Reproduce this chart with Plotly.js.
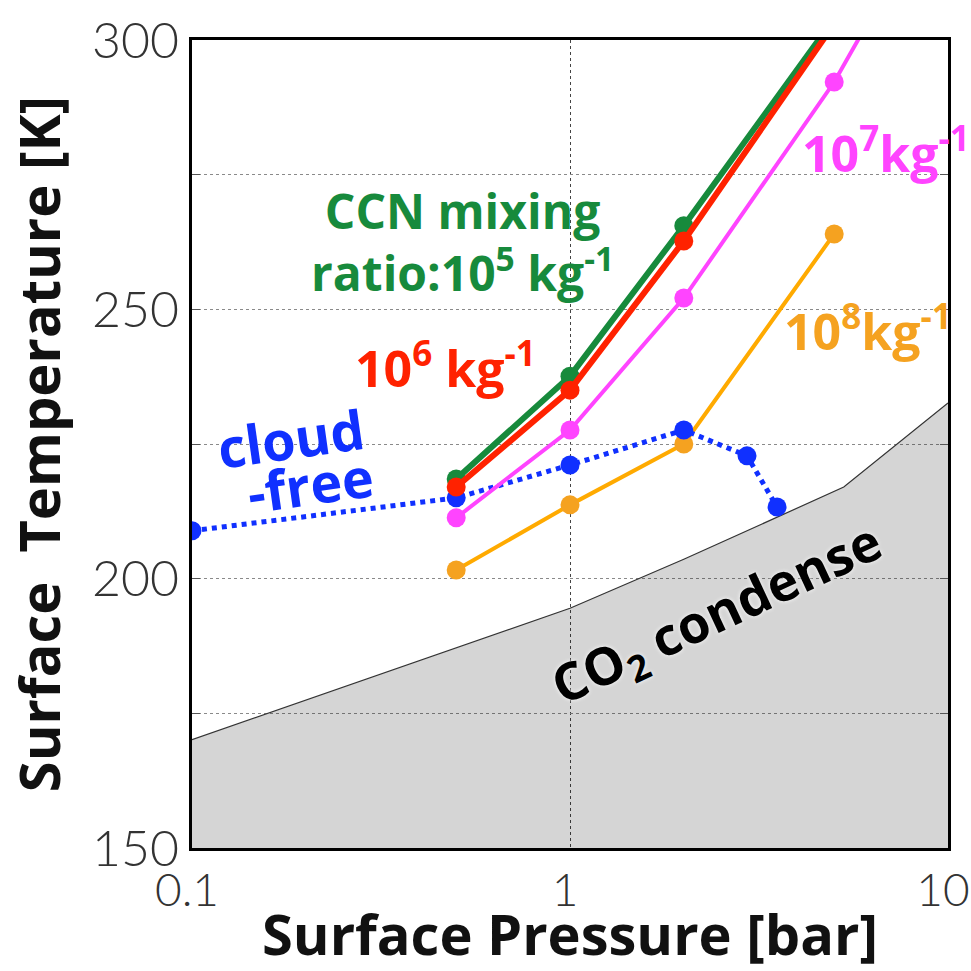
<!DOCTYPE html>
<html><head><meta charset="utf-8">
<script src="https://cdn.plot.ly/plotly-3.0.1.min.js"></script>
<style>html,body{margin:0;padding:0;background:#fff}#c{width:971px;height:971px}</style>
</head><body><div id="c"></div>
<script>
// Data
const pressure4 = [0.5, 1, 2, 5];
const ccn1e5 = [218.5, 237.6, 265.5, 304.0];
const ccn1e6 = [217.0, 235.0, 262.7, 303.0];
const pressure7 = [0.5, 1, 2, 5, 10];
const ccn1e7 = [211.3, 227.6, 252.1, 292.2, 329.5];
const ccn1e8 = [201.6, 213.7, 225.0, 264.0];
const pressureFree = [0.1, 0.5, 1, 2, 2.94, 3.53];
const cloudFree = [208.9, 215.0, 221.1, 227.6, 222.8, 213.3];
const condP = [0.1, 0.3, 1, 2, 5.3, 10];
const condT = [170.1, 181.7, 194.5, 203.6, 217.0, 232.6];
const yTickVals = [150, 175, 200, 225, 250, 275, 300];
const yTickText = ['150', '', '200', '', '250', '', '300'];
const xTickVals = [0.1, 1, 10];
const xTickText = ['0.1', '1', '10'];

const green = '#178a3c', red = '#ff2200', pink = '#ff44ff', orange = '#ffaa00', orangeM = '#f5a220', blue = '#1030ff';

const traces = [
  {x: condP, y: condT, mode: 'lines', fill: 'tozeroy', fillcolor: 'rgba(0,0,0,0.165)',
   line: {color: '#333', width: 1.2}, hoverinfo: 'skip'},
  {x: pressure4, y: ccn1e8, mode: 'lines+markers', line: {color: orange, width: 4},
   marker: {color: orangeM, size: 19}},
  {x: pressureFree, y: cloudFree, mode: 'lines+markers', line: {color: blue, width: 5, dash: 'dot'},
   marker: {color: blue, size: 19}},
  {x: pressure7, y: ccn1e7, mode: 'lines+markers', line: {color: pink, width: 4},
   marker: {color: pink, size: 19}},
  {x: pressure4, y: ccn1e5, mode: 'lines+markers', line: {color: green, width: 6},
   marker: {color: green, size: 19}},
  {x: pressure4, y: ccn1e6, mode: 'lines+markers', line: {color: red, width: 6},
   marker: {color: red, size: 19}}
];

const FF = '"Open Sans", Lato, sans-serif';
const TF = 'Lato, sans-serif';
const annFont = (c, s) => ({family: FF, size: s, color: c, weight: 'bold'});
const px = v => (v - 192) / 756, py = v => (848 - v) / 808;
const ann = (x, y, text, font, extra) => Object.assign({xref: 'paper', yref: 'paper', x: px(x), y: py(y),
  xanchor: 'center', yanchor: 'middle', text: text, showarrow: false, font: font}, extra || {});
const layout = {
  width: 971, height: 971,
  margin: {l: 192, r: 23, t: 40, b: 123},
  showlegend: false,
  paper_bgcolor: '#fff', plot_bgcolor: '#fff',
  xaxis: {type: 'log', range: [-1.00001, 1.00001], tickvals: xTickVals, ticktext: xTickText,
    showgrid: true, gridcolor: '#444', griddash: 'dot', gridwidth: 1,
    showline: true, linecolor: '#000', linewidth: 3, mirror: true,
    ticks: '', zeroline: false, ticklabeloverflow: 'allow', ticklabelshift: -5,
    tickfont: {family: TF, size: 46, color: '#333', weight: 300},
    title: {text: 'Surface Pressure [bar]', standoff: 9,
      font: {family: FF, size: 56, color: '#111', weight: 'bold'}}},
  yaxis: {range: [150, 300], tickvals: yTickVals, ticktext: yTickText,
    showgrid: true, gridcolor: '#8a8a8a', griddash: 'dot', gridwidth: 1,
    showline: true, linecolor: '#000', linewidth: 3, mirror: 'allticks',
    ticks: 'inside', ticklen: 8, tickcolor: '#555', zeroline: false,
    tickfont: {family: TF, size: 50, color: '#333', weight: 300},
    title: {text: 'Surface  Temperature [K]', standoff: 24,
      font: {family: FF, size: 56, color: '#111', weight: 'bold'}}},
  annotations: [
    ann(462, 241, 'CCN mixing<br>ratio:10<sup>5</sup> kg<sup>-1</sup>', annFont(green, 48)),
    ann(445, 365, '10<sup>6</sup> kg<sup>-1</sup>', annFont(red, 50)),
    ann(800, 150, '10<sup>7</sup>kg<sup>-1</sup>', annFont(pink, 50), {xanchor: 'left'}),
    ann(782, 328, '10<sup>8</sup>kg<sup>-1</sup>', annFont(orangeM, 50), {xanchor: 'left'}),
    ann(290, 438, 'cloud', annFont(blue, 54), {textangle: -8}),
    ann(310, 484, '-free', annFont(blue, 54), {textangle: -8}),
    ann(717, 615, 'CO<sub>2</sub> condense',
        {family: FF, size: 52, color: '#000', weight: 'bold', shadow: '0px 0px 4px #fff'}, {textangle: -25})
  ]
};
Plotly.newPlot('c', traces, layout, {staticPlot: true});
</script></body></html>
